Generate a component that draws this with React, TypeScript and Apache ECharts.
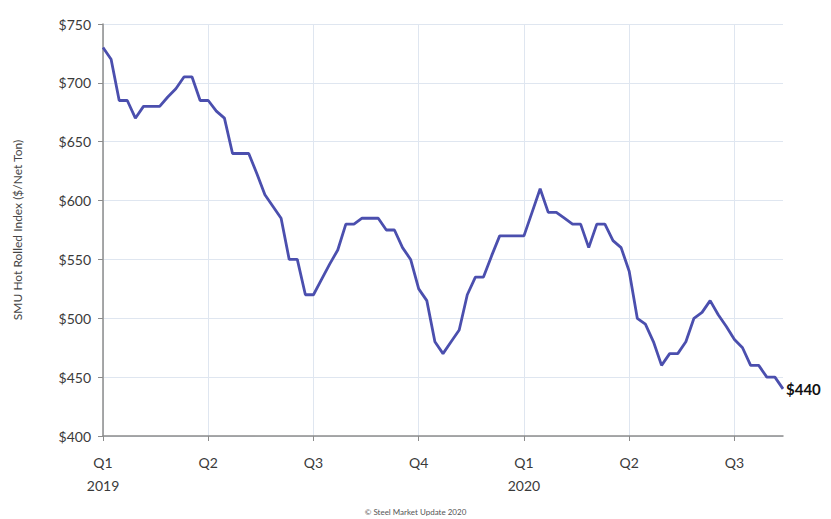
import React, { useEffect, useRef } from "react";
import * as echarts from "echarts";

// Weekly SMU Hot Rolled index, week 0 = first week of Q1 2019
const weeks: string[] = Array.from({ length: 85 }, (_, i) => `W${i}`);
const prices: number[] = [
  730, 720, 685, 685, 670, 680, 680, 680, 688, 695, 705, 705, 685,
  685, 676, 670, 640, 640, 640, 623, 605, 595, 585, 550, 550, 520,
  520, 533, 546, 558, 580, 580, 585, 585, 585, 575, 575, 560, 550,
  525, 515, 480, 470, 480, 490, 520, 535, 535, 553, 570, 570, 570,
  570, 590, 610, 590, 590, 585, 580, 580, 560, 580, 580, 566, 560,
  540, 500, 495, 480, 460, 470, 470, 480, 500, 505, 515, 503, 493,
  482, 475, 460, 460, 450, 450, 440,
];
const quarterLabels: string[] = ["Q1\n2019", "Q2", "Q3", "Q4", "Q1\n2020", "Q2", "Q3"];
const weeksPerQuarter = 13;

export default function App() {
  const ref = useRef<HTMLDivElement>(null);
  useEffect(() => {
    if (!ref.current) return;
    const chart = echarts.init(ref.current, undefined, { renderer: "svg" });
    const isQuarter = (i: number) => i % weeksPerQuarter === 0;
    chart.setOption({
      animation: false,
      backgroundColor: "#ffffff",
      textStyle: { fontFamily: "Lato, 'Open Sans', sans-serif" },
      title: {
        text: "© Steel Market Update 2020",
        left: "center",
        bottom: -2,
        textStyle: { fontSize: 8, fontWeight: "normal", color: "#555", fontFamily: "Lato, sans-serif" },
      },
      grid: { left: 103, right: 48, top: 24, bottom: 83, containLabel: false },
      xAxis: {
        type: "category",
        data: weeks,
        boundaryGap: false,
        axisLine: { show: true, lineStyle: { color: "#8c8c8c", width: 1.5 } },
        axisTick: {
          show: true,
          interval: (i: number) => isQuarter(i),
          length: 5,
          lineStyle: { color: "#8c8c8c" },
        },
        axisLabel: {
          interval: (i: number) => isQuarter(i),
          formatter: (_v: string, i: number) => quarterLabels[Math.floor(i / weeksPerQuarter)] ?? "",
          color: "#3a3a3a",
          fontSize: 14,
          lineHeight: 23,
          margin: 15,
        },
        splitLine: {
          show: true,
          interval: (i: number) => isQuarter(i),
          lineStyle: { color: "#dfe6f0", width: 1 },
        },
      },
      yAxis: {
        type: "value",
        min: 400,
        max: 750,
        interval: 50,
        name: "SMU Hot Rolled Index ($/Net Ton)",
        nameLocation: "middle",
        nameGap: 80,
        nameTextStyle: { fontSize: 12, color: "#444" },
        axisLine: { show: true, lineStyle: { color: "#8c8c8c", width: 1.5 } },
        axisTick: { show: true, length: 5, lineStyle: { color: "#8c8c8c" } },
        axisLabel: { formatter: (v: number) => "$" + v, color: "#3a3a3a", fontSize: 14, margin: 12 },
        splitLine: { show: true, lineStyle: { color: "#dfe6f0", width: 1 } },
      },
      series: [
        {
          type: "line",
          data: prices,
          symbol: "none",
          lineStyle: { color: "#4b4fae", width: 2.8 },
          itemStyle: { color: "#4b4fae" },
          endLabel: {
            show: true,
            formatter: (p: any) => "$" + p.value,
            fontWeight: "bold",
            fontSize: 15,
            color: "#111",
            distance: 3,
          },
        },
      ],
    });
    return () => chart.dispose();
  }, []);
  return <div ref={ref} style={{ width: 831, height: 519, position: "absolute", left: 0, top: 0 }} />;
}
